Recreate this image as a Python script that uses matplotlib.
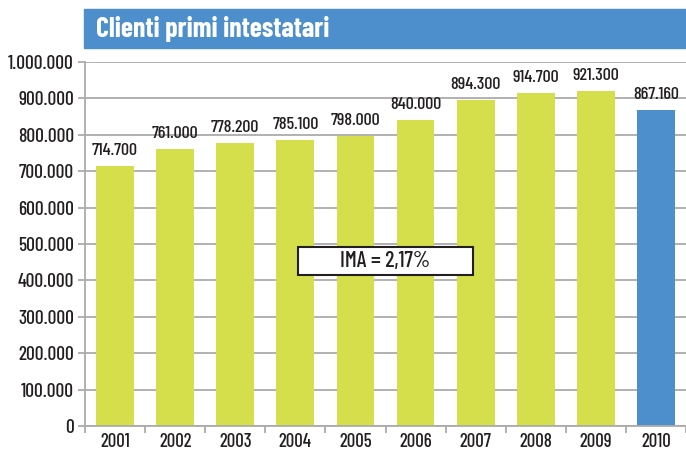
import numpy as np
import matplotlib.pyplot as plt
from matplotlib.patches import Rectangle

years = ['2001', '2002', '2003', '2004', '2005', '2006', '2007', '2008', '2009', '2010']
clienti = [714700, 761000, 778200, 785100, 798000, 840000, 894300, 914700, 921300, 867160]
etichette = ['714.700', '761.000', '778.200', '785.100', '798.000', '840.000',
             '894.300', '914.700', '921.300', '867.160']
yticks = np.arange(0, 1000001, 100000)

verde = '#D5DF4C'
blu = '#4C8FCC'
grigio = '#ABABAB'
nero = '#231F20'

plt.rcParams['font.family'] = ['Barlow Condensed', 'DejaVu Sans']
plt.rcParams['font.weight'] = 500

fig = plt.figure(figsize=(6.86, 4.54), dpi=100)
ax = fig.add_axes([85 / 686, 1 - 426 / 454, 601 / 686, 364 / 454])

# barra del titolo
fig.patches.append(Rectangle((84 / 686, 1 - 48 / 454), 602 / 686, 39 / 454,
                             transform=fig.transFigure, color=blu, zorder=0))
fig.text(96 / 686, 1 - 28.5 / 454, 'Clienti primi intestatari', color='white',
         fontsize=20, fontweight=700, va='center', ha='left')

x = np.arange(len(years))
colori = [verde] * 9 + [blu]
ax.bar(x, clienti, width=0.63, color=colori, zorder=2)
for xi, v, t in zip(x, clienti, etichette):
    ax.text(xi, v + 22000, t, ha='center', va='bottom', fontsize=13, color=nero, zorder=3)

ax.set_xlim(-0.5, 9.5)
ax.set_ylim(0, 1000000)
ax.set_yticks(yticks)
ax.set_yticklabels([f'{v:,}'.replace(',', '.') for v in yticks], fontsize=14, color=nero)
ax.yaxis.grid(True, color=grigio, lw=1.3, zorder=1)
ax.set_axisbelow(True)

# tick x tra le colonne, etichette al centro
ax.set_xticks(np.arange(-0.5, 10, 1))
ax.set_xticklabels([])
ax.set_xticks(x, minor=True)
ax.set_xticklabels(years, minor=True, fontsize=13.5, color=nero)
ax.tick_params(axis='x', which='minor', length=0, pad=5)
ax.tick_params(axis='x', which='major', length=5, color=grigio, width=1.3)
ax.tick_params(axis='y', length=5, color=grigio, width=1.3, pad=3)

for s in ['top', 'right']:
    ax.spines[s].set_visible(False)
for s in ['left', 'bottom']:
    ax.spines[s].set_color(grigio)
    ax.spines[s].set_linewidth(1.3)

# riquadro IMA
ax.add_patch(Rectangle((0.354, 0.415), 0.291, 0.077, transform=ax.transAxes,
                       fc='white', ec=nero, lw=1.5, zorder=4))
ax.text(0.5, 0.453, 'IMA = 2,17%', transform=ax.transAxes, ha='center', va='center',
        fontsize=16, color=nero, zorder=5)
ax.patch.set_visible(False)

plt.savefig('out.png', dpi=100)
